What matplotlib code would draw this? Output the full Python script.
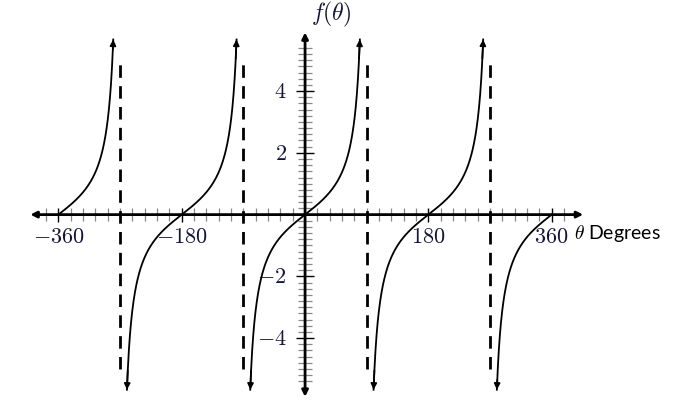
import numpy as np
import matplotlib
matplotlib.use("Agg")
import matplotlib.pyplot as plt

plt.rcParams['mathtext.fontset'] = 'cm'

# branches of f(theta) = tan(theta), degrees; (start, end, arrow at start, arrow at end)
branches = [(-360, -280, False, True),
            (-260, -100, True, True),
            (-80, 80, True, True),
            (100, 260, True, True),
            (280, 360, True, False)]
asymptotes = [-270, -90, 90, 270]
asym_top = 5.0
x_major = [-360, -180, 180, 360]
x_labels = ['$-360$', '$-180$', '$180$', '$360$']
y_major = [-4, -2, 2, 4]
y_labels = ['$-4$', '$-2$', '$2$', '$4$']
x_minor = np.arange(-378, 379, 18)
y_minor = np.round(np.arange(-5.4, 5.41, 0.2), 2)

label_color = '#15153a'

fig = plt.figure(figsize=(6.77, 4.14), dpi=100)
ax = fig.add_axes([0.0256, 0.0167, 0.85, 0.925])
ax.set_xlim(-420, 420)
ax.set_ylim(-6.2, 6.2)
ax.axis('off')

# minor ticks
minor_x = [v for v in x_minor if v not in x_major and v != 0]
minor_y = [v for v in y_minor if v not in y_major and v != 0]
ax.vlines(minor_x, -0.2, 0.2, color='#888888', lw=0.9, zorder=1)
ax.hlines(minor_y, -10, 10, color='#888888', lw=0.9, zorder=1)
ax.vlines(x_major, -0.23, 0.23, color='k', lw=1.0, zorder=2)
ax.hlines(y_major, -13, 13, color='k', lw=1.0, zorder=2)

# axes with arrows
arrow = dict(arrowstyle='<|-|>', lw=2.0, color='k', mutation_scale=9, shrinkA=0, shrinkB=0)
ax.annotate('', xy=(-401, 0), xytext=(406, 0), arrowprops=arrow, zorder=3)
ax.annotate('', xy=(0, -5.9), xytext=(0, 5.9), arrowprops=arrow, zorder=3)

# asymptotes
for a in asymptotes:
    ax.plot([a, a], [-asym_top, asym_top], color='k', lw=2.0, ls=(0, (4.5, 3)), zorder=2)

# curves
head = dict(arrowstyle='-|>', lw=1.2, color='k', mutation_scale=9, shrinkA=0, shrinkB=0)
for s, e, a0, a1 in branches:
    t = np.linspace(s, e, 400)
    y = np.tan(np.radians(t))
    ax.plot(t, y, color='k', lw=1.3, zorder=4)
    if a0:
        ax.annotate('', xy=(t[0], y[0]), xytext=(t[3], y[3]), arrowprops=head, zorder=4)
    if a1:
        ax.annotate('', xy=(t[-1], y[-1]), xytext=(t[-4], y[-4]), arrowprops=head, zorder=4)

# tick labels
for v, lab in zip(x_major, x_labels):
    ax.text(v, -0.38, lab, ha='center', va='top', fontsize=16, color=label_color)
for v, lab in zip(y_major, y_labels):
    ax.text(-27, v, lab, ha='right', va='center', fontsize=16, color=label_color)

# axis labels
ax.text(38, 6.5, r'$f(\theta)$', ha='center', va='center', fontsize=17,
        color=label_color, clip_on=False)
ax.text(393, -0.58, r'$\theta$ Degrees', ha='left', va='center', fontsize=14,
        family='Lato', color='k', clip_on=False)

fig.savefig('out.png', dpi=100)
